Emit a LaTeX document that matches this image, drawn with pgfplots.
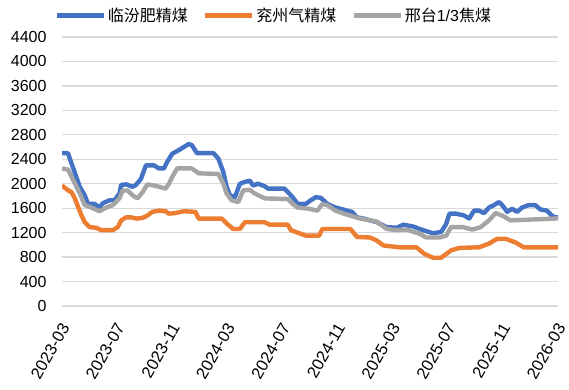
\documentclass[border=0pt]{standalone}
\usepackage{fontspec}
\setmainfont{Liberation Sans}
\newfontfamily\cjk{Noto Sans CJK SC}
\usepackage{pgfplots}
\pgfplotsset{compat=1.18}
\definecolor{cblue}{HTML}{4472C4}
\definecolor{corange}{HTML}{ED7D31}
\definecolor{cgray}{HTML}{A5A5A5}
\definecolor{cgrid}{HTML}{D9D9D9}
\begin{document}
\begin{tikzpicture}
\begin{axis}[name=ax, scale only axis, width=496pt, height=269pt,
  xmin=0, xmax=36, ymin=0, ymax=4400,
  ytick={0,400,...,4400},
  xtick={0,4,...,36},
  xticklabels={2023-03,2023-07,2023-11,2024-03,2024-07,2024-11,2025-03,2025-07,2025-11,2026-03},
  ymajorgrids, grid style={draw=cgrid, line width=1.2pt},
  axis line style={draw=none}, tick style={draw=none},
  font=\fontsize{16}{19}\selectfont,
  /pgf/number format/assume math mode=true,
  /pgf/number format/1000 sep={},
  yticklabel style={xshift=-12pt},
  xticklabel style={xshift=5pt, yshift=-16pt, rotate=60, anchor=east, font=\fontsize{16.5}{19}\selectfont},
  legend columns=3,
  legend style={draw=none, fill=none, at={(axis description cs:0.427,1.08)}, anchor=center,
    nodes={inner sep=2pt}, /tikz/every even column/.append style={column sep=13pt}},
  legend image code/.code={\draw[#1] (0pt,0pt) -- (47pt,0pt);},
  every axis plot/.append style={line width=4.4pt, line join=round},
]
\addplot[cblue] coordinates {
(0,2500)(0.43,2500)(1.29,1950)(1.65,1810)(1.89,1670)(2.37,1670)(2.73,1610)(2.95,1680)(3.45,1730)(3.81,1730)
(4.17,1840)(4.29,1980)(4.65,1990)(5.12,1950)(5.37,1980)(5.73,2080)(6.09,2300)(6.68,2300)(7.04,2250)(7.40,2250)
(7.64,2360)(8.00,2490)(8.48,2550)(8.84,2600)(9.20,2650)(9.43,2630)(9.79,2500)(10.15,2500)(11.0,2500)(11.35,2410)
(11.71,2190)(11.95,1950)(12.19,1810)(12.55,1780)(12.91,2000)(13.27,2030)(13.63,2050)(13.87,1970)(14.23,2000)(14.71,1960)
(14.95,1920)(16.15,1920)(16.74,1780)(17.10,1670)(17.70,1670)(18.06,1730)(18.42,1780)(18.78,1770)(19.26,1670)(19.74,1620)
(20.21,1590)(20.69,1560)(21.05,1540)(21.41,1450)(21.89,1430)(22.85,1370)(23.57,1290)(24.29,1280)(24.77,1330)(25.49,1300)
(26.21,1240)(26.92,1190)(27.52,1210)(27.88,1340)(28.12,1510)(28.60,1510)(29.19,1480)(29.55,1430)(29.91,1560)(30.27,1560)
(30.63,1520)(30.99,1610)(31.35,1650)(31.71,1700)(31.95,1650)(32.31,1540)(32.67,1590)(33.03,1540)(33.39,1610)(33.87,1650)
(34.35,1650)(34.71,1580)(35.19,1560)(35.55,1480)(35.78,1450)(36,1450)};
\addlegendentry{{\cjk 临汾肥精煤}}
\addplot[corange] coordinates {
(0,1970)(0.45,1890)(0.70,1860)(0.93,1760)(1.17,1620)(1.42,1480)(1.65,1370)(2.01,1290)(2.49,1280)(2.85,1240)
(3.69,1240)(4.05,1290)(4.29,1400)(4.65,1450)(5.01,1450)(5.37,1430)(5.84,1440)(6.20,1480)(6.56,1540)(7.04,1560)
(7.52,1550)(7.76,1510)(8.24,1520)(8.84,1550)(9.68,1540)(9.92,1430)(11.59,1430)(11.95,1350)(12.43,1260)(12.91,1260)
(13.27,1370)(14.71,1370)(15.07,1330)(16.38,1330)(16.62,1240)(17.22,1190)(17.70,1150)(18.66,1150)(18.90,1260)(20.93,1260)
(21.41,1130)(22.37,1120)(22.85,1070)(23.33,990)(24.52,960)(25.72,960)(26.32,850)(26.92,790)(27.52,790)(28.24,910)
(28.84,950)(30.27,960)(30.99,1020)(31.59,1100)(32.19,1100)(32.91,1040)(33.51,960)(36,960)};
\addlegendentry{{\cjk 兖州气精煤}}
\addplot[cgray] coordinates {
(0,2250)(0.45,2230)(0.81,2060)(1.29,1840)(1.65,1650)(2.13,1610)(2.73,1550)(3.21,1610)(3.69,1650)(4.17,1760)
(4.40,1890)(4.76,1890)(5.12,1810)(5.48,1760)(5.84,1860)(6.20,1990)(6.68,1970)(7.04,1950)(7.52,1920)(7.76,2000)
(8.00,2110)(8.36,2250)(9.43,2250)(9.92,2170)(11.35,2160)(11.71,2000)(11.95,1840)(12.31,1730)(12.79,1700)(13.15,1890)
(13.63,1900)(13.99,1840)(14.71,1760)(16.38,1750)(16.74,1670)(17.10,1610)(17.94,1590)(18.54,1560)(18.90,1670)(19.26,1650)
(19.85,1560)(20.46,1510)(21.05,1470)(21.65,1430)(22.85,1380)(23.57,1260)(24.29,1240)(25.01,1250)(25.96,1180)(26.44,1120)
(27.40,1120)(27.88,1150)(28.24,1290)(29.08,1290)(29.80,1250)(30.39,1290)(30.99,1400)(31.47,1520)(31.95,1480)(32.55,1400)
(35.78,1430)(36,1440)};
\addlegendentry{{\cjk 邢台}1/3{\cjk 焦煤}}
\end{axis}
\pgfresetboundingbox
\path ([shift={(-62pt,37pt)}]ax.north west) rectangle ([shift={(11pt,-84pt)}]ax.south east);
\end{tikzpicture}
\end{document}
